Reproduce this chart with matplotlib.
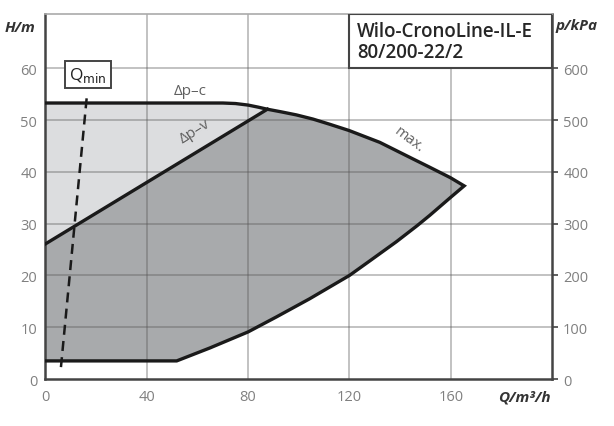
import matplotlib
matplotlib.use("Agg")
import matplotlib.pyplot as plt
from matplotlib.patches import Polygon, Rectangle

plt.rcParams['font.family'] = ['Open Sans', 'DejaVu Sans']

# curve points (Q in m3/h, H in m)
dpc_q = [0, 70, 75, 80, 84, 87.6]
dpc_h = [53.3, 53.3, 53.2, 52.9, 52.5, 52.1]
max_q = [87.6, 93, 99.1, 105.6, 112.2, 119.8, 132, 145.1, 151.7, 159.8, 165.3]
max_h = [52.1, 51.6, 51.0, 50.2, 49.2, 48.0, 45.7, 42.5, 40.9, 38.9, 37.3]
low_q = [165.3, 160, 151.7, 146.7, 138.5, 128, 120, 104.3, 91.2, 80, 64.9, 51.8]
low_h = [37.3, 35.1, 31.6, 29.6, 26.5, 22.8, 20.0, 15.5, 12.0, 9.1, 6.0, 3.5]
base_q = [51.8, 0]
base_h = [3.5, 3.5]
dpv_q = [0, 87.6]
dpv_h = [26.1, 52.1]
qmin_q = [6.1, 16.4]
qmin_h = [2.3, 55.0]

x_ticks = [0, 40, 80, 120, 160]
y_ticks = [0, 10, 20, 30, 40, 50, 60]
p_ticks = [0, 100, 200, 300, 400, 500, 600]
title = "Wilo-CronoLine-IL-E\n80/200-22/2"

fig = plt.figure(figsize=(6.14, 4.27), dpi=100)
ax = fig.add_axes([0.0741, 0.110, 0.825, 0.855])
ax.set_xlim(0, 200)
ax.set_ylim(0, 70.5)

dark = '#a8aaac'
light = '#dcdddf'
line = '#1a1a1a'

# dark gray operating field
dark_pts = list(zip(dpv_q, dpv_h)) + list(zip(max_q[1:], max_h[1:])) \
    + list(zip(low_q[1:], low_h[1:])) + list(zip(base_q[1:], base_h[1:]))
ax.add_patch(Polygon(dark_pts, closed=True, fc=dark, ec='none', zorder=1))
# light gray field between dp-c and dp-v
light_pts = list(zip(dpc_q, dpc_h)) + [(dpv_q[0], dpv_h[0])]
ax.add_patch(Polygon(light_pts, closed=True, fc=light, ec='none', zorder=1))

# grid
for q in x_ticks[1:]:
    ax.axvline(q, color='#555555', lw=1.2, alpha=0.42, zorder=2)
for h in y_ticks[1:]:
    ax.axhline(h, color='#555555', lw=1.2, alpha=0.42, zorder=2)

lw = 2.4
outline_q = dpc_q + max_q[1:] + low_q[1:] + base_q[1:]
outline_h = dpc_h + max_h[1:] + low_h[1:] + base_h[1:]
ax.plot(outline_q, outline_h, color=line, lw=lw, zorder=4, solid_joinstyle='miter')
ax.plot(dpv_q, dpv_h, color=line, lw=lw, zorder=4)
ax.plot(qmin_q, qmin_h, color=line, lw=1.8, ls=(0, (4, 2.5)), zorder=4)

# labels on the curves
ax.text(57, 55.7, 'Δp–c', fontsize=11, color='#606060', ha='center', va='center')
ax.text(59, 48.0, 'Δp–v', fontsize=11, color='#606060', ha='center', va='center', rotation=32)
ax.text(143.5, 46.4, 'max.', fontsize=10.5, color='#606060', ha='center', va='center', rotation=-37)

# Qmin box
ax.text(16.8, 58.8, r'Q$_{\mathrm{min}}$', fontsize=12.5, color='#222222', ha='center', va='center',
        bbox=dict(boxstyle='square,pad=0.22', fc='white', ec='#444444', lw=1.4), zorder=5)

# title box
ax.add_patch(Rectangle((120, 60), 80, 10.5, fc='white', ec='#444444', lw=1.5, zorder=5))
ax.text(123, 65.2, title, fontsize=13.5, color='#262626', ha='left', va='center',
        linespacing=1.08, fontweight='semibold', zorder=6)

ax.set_xticks(x_ticks)
ax.set_yticks(y_ticks)
ax.tick_params(axis='both', length=0, labelsize=10.5, labelcolor='#808080', pad=6)
ax.tick_params(axis='x', pad=7)
for s in ['left', 'bottom', 'right']:
    ax.spines[s].set_color('#444444')
    ax.spines[s].set_linewidth(1.8)
ax.spines['top'].set_color('#aaaaaa')
ax.spines['top'].set_linewidth(1.2)

ax2 = ax.twinx()
ax2.set_ylim(0, 705)
ax2.set_yticks(p_ticks)
ax2.tick_params(axis='y', length=4, width=1.2, color='#444444', labelsize=10.5,
                labelcolor='#808080', pad=4)
for s in ax2.spines.values():
    s.set_visible(False)

fig.text(0.008, 0.935, 'H/m', fontsize=11, color='#333333', fontweight='bold', style='italic', va='center')
fig.text(0.905, 0.940, 'p/kPa', fontsize=11, color='#333333', fontweight='bold', style='italic', va='center')
fig.text(0.812, 0.070, 'Q/m³/h', fontsize=11, color='#333333', fontweight='bold', style='italic', va='center')

fig.savefig('out.png', dpi=100)
